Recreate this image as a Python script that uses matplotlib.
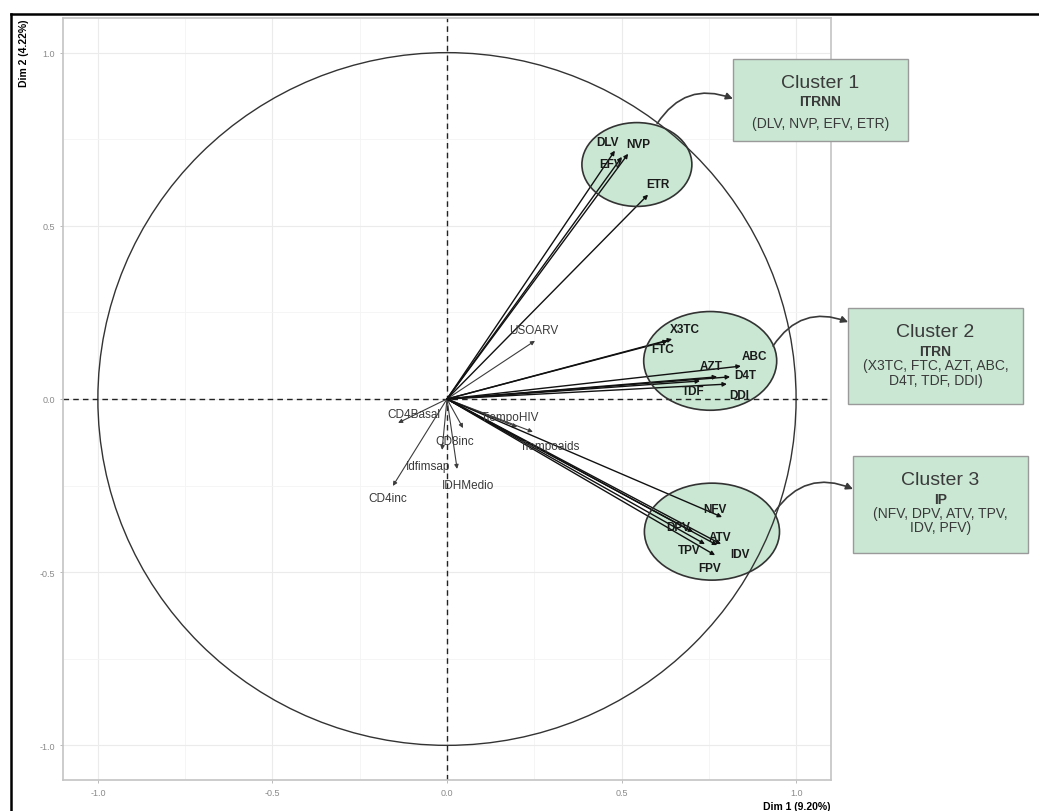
import numpy as np
import matplotlib.pyplot as plt
from matplotlib.patches import Ellipse, Rectangle, Circle, FancyArrowPatch
from matplotlib.lines import Line2D

plt.rcParams['font.family'] = ['Liberation Sans', 'DejaVu Sans']

# coordenadas de las variables en el plano Dim1 / Dim2
vars_cluster = ["DLV", "NVP", "EFV", "ETR",
                "X3TC", "FTC", "AZT", "ABC", "D4T", "TDF", "DDI",
                "NFV", "DPV", "ATV", "TPV", "IDV", "FPV"]
dim1_cluster = [0.481, 0.519, 0.501, 0.576,
                0.645, 0.633, 0.774, 0.842, 0.811, 0.725, 0.802,
                0.788, 0.705, 0.774, 0.739, 0.785, 0.768]
dim2_cluster = [0.717, 0.708, 0.699, 0.590,
                0.173, 0.168, 0.064, 0.095, 0.064, 0.052, 0.043,
                -0.341, -0.384, -0.422, -0.419, -0.419, -0.451]

vars_otras = ["USOARV", "TiempoHIV", "Tiempoaids", "CD4Basal", "CD8inc",
              "Idfimsap", "IDHMedio", "CD4inc"]
dim1_otras = [0.252, 0.201, 0.246, -0.140, 0.046, -0.014, 0.029, -0.155]
dim2_otras = [0.168, -0.081, -0.095, -0.069, -0.084, -0.147, -0.202, -0.251]

# cajas de los grupos
titulos = ["Cluster 1", "Cluster 2", "Cluster 3"]
familias = ["ITRNN", "ITRN", "IP"]
miembros = ["(DLV, NVP, EFV, ETR)",
            "(X3TC, FTC, AZT, ABC,\nD4T, TDF, DDI)",
            "(NFV, DPV, ATV, TPV,\nIDV, PFV)"]

# desplazamiento de etiquetas (puntos)
off_cluster = [(-5, 6.5), (7, 7), (-8, -5), (7, 8),
               (9, 7), (-4, -6), (-4, 8), (10, 7), (11, 1), (-5, -7), (9, -8),
               (-5, 6), (-11, 3.6), (2, 6), (-11, -4), (14, -7), (-4, -9)]
off_otras = [(-1, 8), (-5, 7), (12, -10), (11, 6.5), (-6, -9),
             (-10, -11.5), (8, -11.5), (-4, -9)]

fig = plt.figure(figsize=(10.39, 8.12), dpi=100)
ax = fig.add_axes([0.0606, 0.0382, 0.7392, 0.9384])
ax.set_xlim(-1.1, 1.1)
ax.set_ylim(-1.1, 1.1)

# estilo tipo theme_light
ax.set_xticks([-1.0, -0.5, 0.0, 0.5, 1.0])
ax.set_yticks([-1.0, -0.5, 0.0, 0.5, 1.0])
ax.set_xticks([-0.75, -0.25, 0.25, 0.75], minor=True)
ax.set_yticks([-0.75, -0.25, 0.25, 0.75], minor=True)
ax.grid(which='major', color='#ebebeb', lw=0.8, zorder=0)
ax.grid(which='minor', color='#f4f4f4', lw=0.6, zorder=0)
ax.set_axisbelow(True)
for s in ax.spines.values():
    s.set_color('#c4c4c4')
    s.set_linewidth(1.2)
ax.tick_params(which='major', colors='#b0b0b0', labelcolor='#8a8a8a', labelsize=6.5, length=2.5, width=0.6)
ax.tick_params(which='minor', length=0)
ax.set_xticklabels(['-1.0', '-0.5', '0.0', '0.5', '1.0'])
ax.set_yticklabels(['-1.0', '-0.5', '0.0', '0.5', '1.0'])

ax.set_xlabel('Dim 1 (9.20%)', fontsize=7.5, fontweight='bold', loc='right', labelpad=3)
ax.set_ylabel('Dim 2 (4.22%)', fontsize=7.5, fontweight='bold', loc='top', labelpad=7)

# círculo de correlaciones y ejes
ax.add_patch(Circle((0, 0), 1, fill=False, ec='#333333', lw=1.0, zorder=2))
ax.axhline(0, color='#222222', ls=(0, (4, 3)), lw=1.0, zorder=2)
ax.axvline(0, color='#222222', ls=(0, (4, 3)), lw=1.0, zorder=2)

# elipses de los grupos
elipses = [((0.544, 0.677), 0.315, 0.242),
           ((0.754, 0.110), 0.381, 0.285),
           ((0.759, -0.383), 0.387, 0.280)]
for (c, w, h) in elipses:
    ax.add_patch(Ellipse(c, w, h, fc='#c9e7d3', ec='none', zorder=1.5, clip_on=False))
    ax.add_patch(Ellipse(c, w, h, fc='none', ec='#333333', lw=1.2, zorder=4, clip_on=False))

# flechas de las variables
for nombre, x, y, off in zip(vars_otras, dim1_otras, dim2_otras, off_otras):
    ax.annotate('', xy=(x, y), xytext=(0, 0),
                arrowprops=dict(arrowstyle='-|>', color='#3c3c3c', lw=0.8,
                                mutation_scale=6, shrinkA=0, shrinkB=0), zorder=3)
    ax.annotate(nombre, xy=(x, y), xytext=off, textcoords='offset points',
                ha='center', va='center', fontsize=8.5, color='#3a3a3a', zorder=5)

for nombre, x, y, off in zip(vars_cluster, dim1_cluster, dim2_cluster, off_cluster):
    ax.annotate('', xy=(x, y), xytext=(0, 0),
                arrowprops=dict(arrowstyle='-|>', color='#111111', lw=1.0,
                                mutation_scale=6, shrinkA=0, shrinkB=0), zorder=3)
    ax.annotate(nombre, xy=(x, y), xytext=off, textcoords='offset points',
                ha='center', va='center', fontsize=8.5, fontweight='bold',
                color='#1a1a1a', zorder=5)

# cajas con la descripción de cada grupo
cajas = [(0.819, 0.744, 0.502, 0.239),
         (1.149, -0.014, 0.501, 0.276),
         (1.163, -0.444, 0.502, 0.280)]
for (x0, y0, w, h), tit, fam, mie in zip(cajas, titulos, familias, miembros):
    ax.add_patch(Rectangle((x0, y0), w, h, fc='#c9e7d3', ec='#9a9a9a', lw=1.0,
                           zorder=4, clip_on=False))
    xc = x0 + w / 2
    top = y0 + h
    ax.text(xc, top - 0.068, tit, ha='center', va='center', fontsize=14,
            color='#3a3a3a', zorder=5, clip_on=False)
    ax.text(xc, top - 0.124, fam, ha='center', va='center', fontsize=10,
            fontweight='bold', color='#3a3a3a', zorder=5, clip_on=False)
    ax.text(xc, top - 0.185, mie, ha='center', va='center', fontsize=10,
            color='#3a3a3a', linespacing=1.05, zorder=5, clip_on=False)

# conectores curvos elipse -> caja
conectores = [((0.602, 0.795), (0.819, 0.867)),
              ((0.934, 0.153), (1.149, 0.222)),
              ((0.940, -0.324), (1.163, -0.260))]
for a, b in conectores:
    ax.add_patch(FancyArrowPatch(a, b, connectionstyle='arc3,rad=-0.4',
                                 arrowstyle='-|>', mutation_scale=10,
                                 color='#3a3a3a', lw=1.2, shrinkA=0, shrinkB=0,
                                 zorder=5, clip_on=False))

# marco de la figura
fig.add_artist(Line2D([0.0106, 1.0], [0.9815, 0.9815], color='black', lw=1.8))
fig.add_artist(Line2D([0.0106, 0.0106], [0.0, 0.9815], color='black', lw=1.8))

fig.savefig('out.png', dpi=100)
